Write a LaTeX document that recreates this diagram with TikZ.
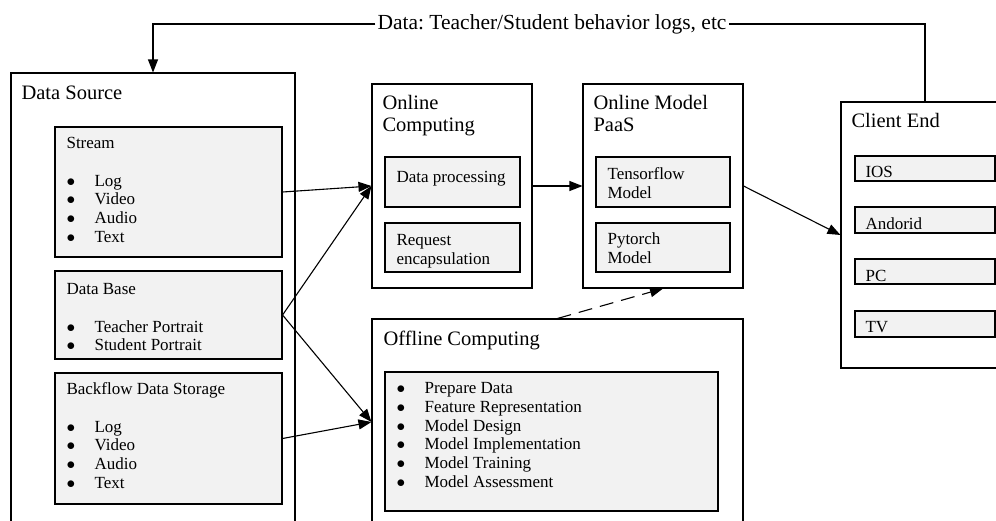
\documentclass[tikz,border=0pt]{standalone}
\usepackage{fontspec}
\setmainfont{Liberation Serif}
\usetikzlibrary{arrows.meta}
\definecolor{boxGray}{RGB}{242,242,242}
\newcommand{\itm}[1]{\makebox[28pt][l]{$\bullet$}#1}
\frenchspacing

\begin{document}
\begin{tikzpicture}[x=1pt, y=-1pt, line width=1.1pt,
    outbox/.style={draw, fill=white, inner sep=0pt},
    inbox/.style={draw, fill=boxGray, inner sep=0pt},
    bigtxt/.style={anchor=north west, inner sep=0pt, align=left, font=\fontsize{20.5}{22}\selectfont},
    smalltxt/.style={anchor=north west, inner sep=0pt, align=left, font=\fontsize{17}{18.8}\selectfont},
    flow/.style={-{Triangle[length=13pt, width=10pt]}}
  ]
  \useasboundingbox (0,0) rectangle (996,520);
  \clip (0,0) rectangle (996,520);

  % Data Source
  \node[outbox, minimum width=284, minimum height=472] (src) at (153,309) {};
  \node[bigtxt] (srcttl) at (21,83.6) {\strut Data Source};
  \node[inbox, minimum width=227, minimum height=130] (stream) at (168.5,192) {};
  \node[smalltxt] (streamtxt) at (66,134.8) {\strut Stream\\[18.8pt]\itm{Log}\\\itm{Video}\\\itm{Audio}\\\itm{Text}};
  \node[inbox, minimum width=227, minimum height=88] (dbase) at (168.5,315) {};
  \node[smalltxt] (dbasetxt) at (66,280.8) {\strut Data Base\\[18.8pt]\itm{Teacher Portrait}\\\itm{Student Portrait}};
  \node[inbox, minimum width=227, minimum height=131] (backflow) at (168.5,438.5) {};
  \node[smalltxt] (backflowtxt) at (66,380.8) {\strut Backflow Data Storage\\[18.8pt]\itm{Log}\\\itm{Video}\\\itm{Audio}\\\itm{Text}};

  % Online Computing
  \node[outbox, minimum width=160, minimum height=204] (online) at (452,186) {};
  \node[bigtxt] (onlinettl) at (382,93.6) {\strut Online\\Computing};
  \node[inbox, minimum width=135, minimum height=50] (dproc) at (452.5,182) {};
  \node[smalltxt] (dproctxt) at (396,168.8) {\strut Data processing};
  \node[inbox, minimum width=135, minimum height=49] (reqenc) at (452.5,247.5) {};
  \node[smalltxt] (reqenctxt) at (396,231.8) {\strut Request\\encapsulation};

  % Online Model PaaS
  \node[outbox, minimum width=160, minimum height=204] (paas) at (663,186) {};
  \node[bigtxt] (paasttl) at (593,93.6) {\strut Online Model\\PaaS};
  \node[inbox, minimum width=134, minimum height=50] (tfmodel) at (663,182) {};
  \node[smalltxt] (tftxt) at (607,165.8) {\strut Tensorflow\\Model};
  \node[inbox, minimum width=134, minimum height=49] (ptmodel) at (663,247.5) {};
  \node[smalltxt] (pttxt) at (607,230.8) {\strut Pytorch\\Model};

  % Offline Computing
  \node[outbox, minimum width=371, minimum height=206] (offline) at (557.5,422) {};
  \node[bigtxt] (offlinettl) at (383,329.6) {\strut Offline Computing};
  \node[inbox, minimum width=333, minimum height=139] (offlist) at (551.5,441.5) {};
  \node[smalltxt] (offlisttxt) at (396,379.8) {\strut\itm{Prepare Data}\\\itm{Feature Representation}\\\itm{Model Design}\\\itm{Model Implementation}\\\itm{Model Training}\\\itm{Model Assessment}};

  % Client End
  \node[outbox, minimum width=168, minimum height=266] (client) at (925,235) {};
  \node[bigtxt] (clientttl) at (851,111.6) {\strut Client End};
  \node[inbox, minimum width=140, minimum height=25] (ios) at (925,168.5) {};
  \node[smalltxt] (iostxt) at (865,163.8) {\strut IOS};
  \node[inbox, minimum width=140, minimum height=26] (andorid) at (925,220) {};
  \node[smalltxt] (andoridtxt) at (865,215.8) {\strut Andorid};
  \node[inbox, minimum width=140, minimum height=25] (pc) at (925,271.5) {};
  \node[smalltxt] (pctxt) at (865,267.8) {\strut PC};
  \node[inbox, minimum width=140, minimum height=26] (tv) at (925,324) {};
  \node[smalltxt] (tvtxt) at (865,318.8) {\strut TV};

  % Arrows
  \draw[flow] (stream.east) -- (online.west);
  \draw[flow] (dbase.east) -- (online.west);
  \draw[flow] (dbase.east) -- (offline.west);
  \draw[flow] (backflow.east) -- (offline.west);
  \draw[flow] (online.east) -- (paas.west);
  \draw[flow] (paas.east) -- (client.west);
  \draw[flow, dash pattern=on 14pt off 8pt] (offline.north) -- (paas.south);

  % Feedback
  \node[inner sep=1.5pt, font=\fontsize{21.5}{24}\selectfont] (fblbl) at (552,24) {Data: Teacher/Student behavior logs, etc};
  \draw (client.north) |- (fblbl.east);
  \draw[flow] (fblbl.west) -| (src.north);
\end{tikzpicture}
\end{document}
